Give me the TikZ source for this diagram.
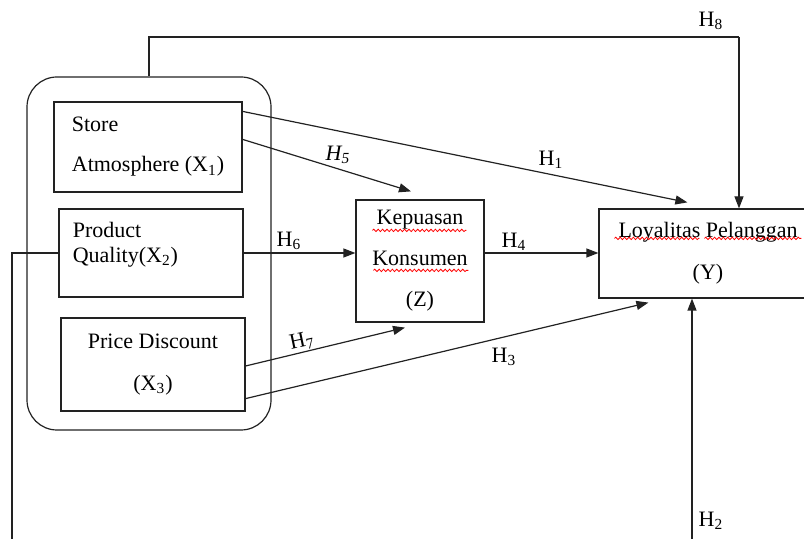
\documentclass[tikz,border=0pt]{standalone}
\usepackage{fontspec}
\setmainfont{Liberation Serif}
\usetikzlibrary{positioning, arrows.meta, calc, decorations.pathmorphing}
\definecolor{coloredge}{HTML}{222222}

\begin{document}
\begin{tikzpicture}[
    % one unit = one pixel of the 804x539 layout, y grows downwards
    x=0.5pt, y=-0.5pt,
    % plain boxes for the variables
    box/.style={
        rectangle,
        draw=coloredge,
        line width=0.6pt,
        inner sep=0pt,
        text=black,
        font=\fontsize{11pt}{20pt}\selectfont
    },
    % rounded frame round the three X variables
    group/.style={
        box,
        rounded corners=15pt
    },
    boxtext/.style={
        inner sep=0pt,
        align=left,
        font=\fontsize{11pt}{12.5pt}\selectfont
    },
    hlabel/.style={
        inner sep=0pt,
        font=\fontsize{11pt}{13pt}\selectfont
    },
    link/.style={
        coloredge,
        line width=0.6pt
    },
    arrow/.style={
        -{Triangle[length=6pt, width=4.5pt]},
        coloredge,
        line width=0.6pt
    },
    % red spell-check squiggle
    spell/.style={
        red,
        line width=0.4pt,
        decorate,
        decoration={snake, amplitude=0.6pt, segment length=2.2pt}
    }
]
\useasboundingbox (0,0) rectangle (804,539);

% ==============================
% Independent variables
% ==============================
\node[group, minimum width=122pt, minimum height=176.5pt] (cluster) at (149,253.5) {};

\node[box, align=left, minimum width=94pt, minimum height=45pt] (store) at (148,147) {
    Store \\
    Atmosphere (X\textsubscript{1})
};

\node[box, minimum width=92pt, minimum height=44pt] (quality) at (151,253) {};
\node[boxtext, anchor=north west] (qualitytext) at ($(quality.north west)+(14,13)$) {
    Product \\
    Quality(X\textsubscript{2})
};

\node[box, align=center, minimum width=92pt, minimum height=46.5pt,
      font=\fontsize{11pt}{21pt}\selectfont] (price) at (153,364.5) {
    Price Discount \\
    (X\textsubscript{3})
};

% ==============================
% Mediator and outcome
% ==============================
\node[box, align=center, minimum width=64pt, minimum height=61pt,
      font=\fontsize{11pt}{20.5pt}\selectfont] (satisf) at (420,261) {
    Kepuasan \\
    Konsumen \\
    (Z)
};

\node[box, align=center, minimum width=109pt, minimum height=44.5pt,
      font=\fontsize{11pt}{21pt}\selectfont] (loyal) at (708,253.5) {
    Loyalitas Pelanggan \\
    (Y)
};

\draw[spell] ($(satisf.north west)+(17,31)$) -- ($(satisf.north west)+(111,31)$);
\draw[spell] ($(satisf.north west)+(18,71)$) -- ($(satisf.north west)+(113,71)$);
\draw[spell] ($(loyal.north west)+(16,30)$) -- ($(loyal.north west)+(101,30)$);
\draw[spell] ($(loyal.north west)+(106,30)$) -- ($(loyal.north west)+(203,30)$);

% ==============================
% Free ends of the long lines
% ==============================
\coordinate (h8top) at (739,37);
\coordinate (h2foot) at (692,545);
\coordinate (qualityfoot) at (12,545);

% ==============================
% Arrows
% ==============================
\draw[link] (cluster.north) |- (h8top);
\draw[arrow] (h8top) -- (h8top |- loyal.north);

\draw[arrow] (h2foot) -- (h2foot |- loyal.south);
\draw[link] (quality.west) -| (qualityfoot);

\draw[arrow] ($(store.north east)+(0,10)$) -- ($(loyal.north west)+(89,-6)$);
\draw[arrow] ($(store.north east)+(0,38)$) -- ($(satisf.north)+(-9,-8)$);
\draw[arrow] (quality.east) -- (quality.east -| satisf.west);
\draw[arrow] (satisf.east |- quality.east) -- (satisf.east |- quality.east -| loyal.west);
\draw[arrow] ($(price.east)+(0,1.5)$) -- ($(satisf.south)+(-15,5)$);
\draw[arrow] ($(price.south east)+(0,-13)$) -- ($(loyal.south west)+(50,4)$);

% ==============================
% Path labels
% ==============================
\node[hlabel] (h8) at (711,21) {H\textsubscript{8}};
\node[hlabel] (h1) at (551,160) {H\textsubscript{1}};
\node[hlabel] (h5) at (338,155) {\textit{H\textsubscript{5}}};
\node[hlabel] (h6) at (289,241) {H\textsubscript{6}};
\node[hlabel] (h4) at (514,242) {H\textsubscript{4}};
\node[hlabel, rotate=12] (h7) at (302,342) {H\textsubscript{7}};
\node[hlabel] (h3) at (504,357) {H\textsubscript{3}};
\node[hlabel] (h2) at (711,521) {H\textsubscript{2}};

\end{tikzpicture}
\end{document}
